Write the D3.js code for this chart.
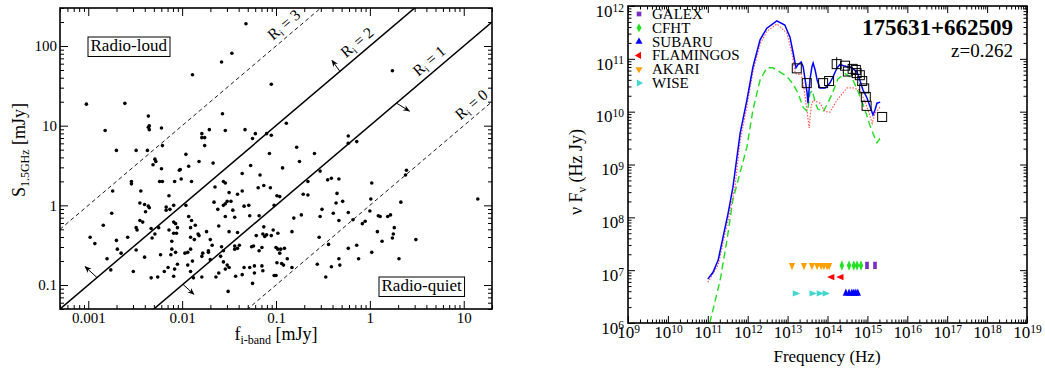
<!DOCTYPE html>
<html>
<head>
<meta charset="utf-8">
<script src="https://d3js.org/d3.v7.min.js"></script>
<style>
  body { margin: 0; background: #fff; }
  svg { display: block; }
  text { font-family: "Liberation Serif", "Times New Roman", serif; }
</style>
</head>
<body>
<svg id="chart" width="1045" height="375"></svg>
<script>
// ---- left panel data: [log10 f_i-band (mJy), log10 S_1.5GHz (mJy)] ----
const radioSources = [
  [-3.02,1.27],[-2.61,1.28],[-2.82,0.94],[-2.36,1.12],[-2.35,1.00],[-2.36,0.98],[-2.35,0.95],[-2.22,0.97],
  [-2.70,0.69],[-2.49,0.69],[-2.37,0.69],[-2.21,0.75],[-2.29,0.58],[-2.28,0.55],[-2.31,0.51],[-2.22,0.46],
  [-2.54,0.30],[-2.54,0.27],[-2.24,0.30],[-2.21,0.30],[-2.44,0.18],[-2.74,0.18],[-2.45,0.03],[-2.40,0.01],
  [-2.36,-0.01],[-2.35,-0.03],[-2.39,-0.08],[-2.14,0.12],[-2.17,-0.02],[-2.17,-0.06],[-2.13,-0.05],[-2.09,0.00],
  [-2.75,-0.10],[-2.45,-0.19],[-2.42,-0.21],[-2.84,-0.25],[-2.49,-0.28],[-2.48,-0.31],[-2.33,-0.29],[-2.25,-0.28],
  [-2.29,-0.36],[-2.32,-0.41],[-2.98,-0.40],[-2.93,-0.48],[-2.70,-0.44],[-2.58,-0.40],[-2.69,-0.55],[-2.65,-0.60],
  [-2.49,-0.56],[-2.80,-0.67],[-2.40,-0.65],[-2.76,-0.81],[-2.52,-0.83],[-2.33,-0.91],[-2.26,-0.90],[-2.19,-0.83],
  [-2.15,-0.78],[-2.09,-0.89],[-2.08,-0.80],[-2.05,-0.74],[-2.23,-0.62],[-2.12,-0.62],[-2.11,-0.55],[-2.07,-0.59],
  [-2.11,-0.45],[-2.14,-0.31],[-2.09,-0.35],[-2.06,-0.35],[-2.09,-0.21],[-2.07,-0.23],[-2.05,-0.28],[-1.96,0.64],
  [-1.93,0.49],[-1.90,0.30],[-2.03,0.44],[-2.02,0.45],[-2.01,0.33],[-2.08,0.30],[-1.96,0.00],[-1.93,-0.14],
  [-1.90,-0.19],[-1.91,-0.28],[-1.86,-0.25],[-1.91,-0.40],[-1.87,-0.43],[-1.83,-0.36],[-1.82,-0.38],[-1.97,-0.60],
  [-1.94,-0.59],[-1.91,-0.55],[-1.89,-0.70],[-1.94,-0.75],[-1.91,-0.83],[-1.88,-0.91],[-1.79,-0.90],[-1.78,-0.60],
  [-1.79,-0.64],[-1.82,0.55],[-1.79,0.90],[-1.79,0.85],[-1.89,1.64],[-1.58,1.80],[-1.47,1.91],[-1.32,2.28],
  [-1.05,1.52],[0.24,1.69],[-1.57,1.15],[-1.71,0.95],[-1.76,0.85],[-1.76,0.75],[-1.54,0.94],[-1.33,0.95],
  [-1.22,0.90],[-1.25,0.84],[-1.10,0.90],[-1.05,0.88],[-0.89,1.03],[-0.78,0.73],[-1.07,0.65],[-0.59,0.65],
  [-0.23,0.87],[-0.23,0.78],[-1.67,0.53],[-1.27,0.50],[-0.93,0.47],[-0.75,0.55],[-1.36,0.40],[-1.17,0.38],
  [-0.53,0.43],[-1.56,0.30],[-1.54,0.28],[-1.65,0.23],[-1.19,0.22],[-1.13,0.25],[-1.06,0.22],[-0.45,0.32],
  [-0.41,0.34],[-0.33,0.33],[-0.66,0.30],[-1.50,0.16],[-1.41,0.14],[-1.36,0.18],[-0.99,0.12],[-0.96,0.11],
  [-0.71,0.14],[-0.66,0.13],[-0.35,0.15],[-1.66,0.04],[-1.52,0.05],[-1.48,0.05],[-1.56,0.00],[-1.54,0.02],
  [-1.62,-0.05],[-1.46,-0.06],[-1.34,-0.01],[-1.29,0.00],[-1.02,0.00],[-0.29,0.05],[-0.36,0.03],[-0.51,-0.05],
  [-0.39,-0.10],[-1.54,-0.14],[-1.44,-0.15],[-1.28,-0.13],[-1.18,-0.13],[-0.81,-0.16],[-0.73,-0.12],[-0.53,-0.14],
  [-0.33,-0.19],[-0.23,-0.09],[-0.18,-0.18],[-1.61,-0.26],[-1.74,-0.33],[-1.50,-0.33],[-1.41,-0.34],[-1.13,-0.27],
  [-1.03,-0.31],[-0.98,-0.35],[-0.83,-0.33],[-1.21,-0.38],[-1.14,-0.36],[-1.12,-0.39],[-1.10,-0.37],[-1.05,-0.38],
  [-1.70,-0.43],[-1.68,-0.50],[-1.72,-0.57],[-1.72,-0.59],[-1.58,-0.52],[-1.56,-0.57],[-1.59,-0.64],[-1.70,-0.68],
  [-1.44,-0.51],[-1.44,-0.55],[-1.41,-0.54],[-1.39,-0.50],[-1.26,-0.52],[-1.24,-0.51],[-1.15,-0.53],[-1.18,-0.57],
  [-1.00,-0.53],[-0.98,-0.55],[-0.95,-0.55],[-0.91,-0.54],[-0.96,-0.60],[-0.88,-0.67],[-0.99,-0.72],[-0.94,-0.73],
  [-0.92,-0.75],[-0.83,-0.78],[-0.54,-0.40],[-0.44,-0.49],[-0.23,-0.54],[-0.33,-0.67],[-0.32,-0.75],[-0.56,-0.74],
  [-0.41,-0.77],[-0.47,-0.90],[-1.56,-0.71],[-1.52,-0.75],[-1.50,-0.78],[-1.54,-0.80],[-1.61,-0.85],[-1.64,-0.90],
  [-1.34,-0.78],[-1.28,-0.78],[-1.23,-0.76],[-1.15,-0.76],[-1.14,-0.82],[-1.23,-0.85],[-1.36,-0.87],[-1.43,-0.89],
  [-1.02,-0.88],[-1.00,-0.88],[-1.25,-0.98],[-1.51,-1.08],[0.02,0.28],[0.39,0.44],[0.38,0.38],[0.01,0.08],
  [0.33,0.04],[1.15,0.08],[-0.08,-0.23],[-0.05,-0.20],[0.00,-0.07],[0.09,-0.13],[0.11,-0.14],[0.19,-0.14],
  [0.22,-0.12],[0.08,-0.33],[0.13,-0.45],[0.26,-0.28],[0.25,-0.36],[0.24,-0.41],[0.49,-0.43],[-0.14,-0.50],
  [-0.12,-0.67],[0.02,-0.59],[0.31,-0.67],[-0.14,0.80]
];
// radio-loudness lines R_i = log(S/f)
const rValues = [0, 1, 2, 3];
const rDashed = [true, false, false, true];
const rLabelF = [14.4, 5.1, 0.87, 0.145];      // f (mJy) along each line where its label sits
const rArrows = [                               // arrows off the R_i=1 and R_i=2 lines
  {r: 2, f: 0.48,    dx: -8,  dy: -11},
  {r: 2, f: 0.00124, dx: -12, dy: -11},
  {r: 1, f: 1.92,    dx: 13,  dy: 8},
  {r: 1, f: 0.0102,  dx: 11,  dy: 10}
];

// ---- right panel data: [log10 nu (Hz), log10 nuF_nu (Hz Jy)] ----
const sedTotal = [[11.00,6.83],[11.13,6.96],[11.26,7.19],[11.38,7.62],[11.51,8.08],[11.63,8.57],[11.81,9.59],
  [11.98,10.22],[12.13,10.84],[12.31,11.36],[12.48,11.58],[12.73,11.72],[12.93,11.64],[13.06,11.41],[13.14,11.11],
  [13.21,10.83],[13.26,10.89],[13.34,10.94],[13.39,10.85],[13.44,10.60],[13.49,10.35],[13.51,10.16],[13.56,10.60],
  [13.61,10.85],[13.64,10.92],[13.69,10.79],[13.74,10.60],[13.81,10.45],[13.94,10.45],[14.06,10.54],[14.14,10.66],
  [14.24,10.83],[14.31,10.89],[14.49,10.85],[14.61,10.83],[14.74,10.75],[14.81,10.60],[14.89,10.41],[14.99,10.26],
  [15.07,10.09],[15.14,9.94],[15.19,10.03],[15.24,10.16],[15.32,10.18]];
const sedRed = [[11.00,6.77],[11.26,7.10],[11.38,7.51],[11.51,7.95],[11.68,8.57],[11.81,9.45],[11.98,10.10],
  [12.13,10.75],[12.31,11.28],[12.48,11.52],[12.73,11.66],[12.98,11.49],[13.11,11.11],[13.19,10.73],[13.26,10.70],
  [13.34,10.72],[13.42,10.40],[13.49,10.00],[13.54,9.69],[13.59,10.10],[13.64,10.22],[13.81,10.16],[13.94,10.00],
  [14.06,9.99],[14.24,10.22],[14.49,10.45],[14.64,10.45],[14.81,10.41],[14.99,10.09],[15.12,9.78],[15.19,9.97],
  [15.32,10.09]];
const sedGreen = [[11.05,6.00],[11.31,6.81],[11.48,7.57],[11.63,8.33],[11.73,8.62],[11.98,9.33],[12.13,10.03],
  [12.31,10.60],[12.48,10.83],[12.63,10.83],[12.81,10.75],[12.98,10.67],[13.14,10.52],[13.26,10.35],[13.39,10.08],
  [13.50,10.00],[13.56,10.35],[13.62,10.40],[13.70,10.15],[13.76,10.05],[13.89,10.00],[14.00,10.15],[14.10,10.31],
  [14.26,10.62],[14.44,10.72],[14.61,10.64],[14.73,10.45],[14.86,10.20],[14.98,9.94],[15.06,9.75],[15.14,9.59],
  [15.24,9.41],[15.30,9.48],[15.32,9.43]];
const photometry = [[13.23,10.82],[13.48,10.54],[13.89,10.54],[14.04,10.58],[14.23,10.90],[14.44,10.87],
  [14.51,10.76],[14.63,10.81],[14.71,10.79],[14.73,10.73],[14.81,10.69],[14.87,10.58],[14.92,10.44],[14.96,10.28],
  [14.98,10.11],[15.37,9.90]];
const photErrors = [[14.23, 10.80, 11.03]];
// filter positions (log10 nu) and the flux level they are plotted at
const galexNu = [14.99, 15.19];
const cfhtNu = [14.36, 14.54, 14.66, 14.74, 14.84];
const subaruNu = [14.46, 14.54, 14.61, 14.66, 14.71, 14.76];
const flamingosNu = [14.11, 14.34];
const akariNu = [13.11, 13.41, 13.61, 13.74, 13.84, 13.91, 13.99, 14.04];
const wiseNu = [13.19, 13.61, 13.79, 13.94];
const filterLevel = {GALEX: 7.09, CFHT: 7.09, SUBARU: 6.56, FLAMINGOS: 6.87, AKARI: 7.09, WISE: 6.56};
const legendNames = ["GALEX", "CFHT", "SUBARU", "FLAMINGOS", "AKARI", "WISE"];
const sourceName = "175631+662509";
const redshift = "z=0.262";

// ------------------------------------------------------------------
const svg = d3.select("#chart");
const SERIF = '"Liberation Serif", "Times New Roman", serif';
const SANS = '"Liberation Sans", Arial, sans-serif';
const p10 = v => Math.pow(10, v);

function decades(domain) {
  const major = [], minor = [];
  const lo = Math.floor(Math.log10(domain[0])), hi = Math.ceil(Math.log10(domain[1]));
  for (let e = lo; e <= hi; e++) {
    for (let k = 1; k < 10; k++) {
      const v = k * Math.pow(10, e);
      if (v < domain[0] * 0.9999 || v > domain[1] * 1.0001) continue;
      (k === 1 ? major : minor).push(v);
    }
  }
  return {major, minor};
}

// ticks on all four sides, pointing inwards
function frameAxes(g, x, y, box, o) {
  const xt = decades(x.domain()), yt = decades(y.domain());
  const put = (axis, tx, ty) => g.append("g")
    .attr("transform", `translate(${tx},${ty})`)
    .call(axis)
    .call(a => a.select(".domain").remove())
    .attr("font-family", o.font).attr("font-size", o.size);
  const xb = put(d3.axisBottom(x).tickValues(xt.major).tickSize(-o.major).tickPadding(o.xpad).tickFormat(o.fmt), 0, box.bottom);
  put(d3.axisBottom(x).tickValues(xt.minor).tickSize(-o.minor).tickFormat(""), 0, box.bottom);
  put(d3.axisTop(x).tickValues(xt.major).tickSize(-o.major).tickFormat(""), 0, box.top);
  put(d3.axisTop(x).tickValues(xt.minor).tickSize(-o.minor).tickFormat(""), 0, box.top);
  const yl = put(d3.axisLeft(y).tickValues(yt.major).tickSize(-o.major).tickPadding(o.ypad).tickFormat(o.fmt), box.left, 0);
  put(d3.axisLeft(y).tickValues(yt.minor).tickSize(-o.minor).tickFormat(""), box.left, 0);
  put(d3.axisRight(y).tickValues(yt.major).tickSize(-o.major).tickFormat(""), box.right, 0);
  put(d3.axisRight(y).tickValues(yt.minor).tickSize(-o.minor).tickFormat(""), box.right, 0);
  g.selectAll(".tick line").attr("stroke-width", 1);
  g.append("rect").attr("x", box.left).attr("y", box.top)
    .attr("width", box.right - box.left).attr("height", box.bottom - box.top)
    .attr("fill", "none").attr("stroke", "#000").attr("stroke-width", 1.6);
  return {xb, yl};
}

// ================= left panel =================
const L = {left: 60, right: 492, top: 8, bottom: 309};
const xL = d3.scaleLog().domain([0.0005, 20]).range([L.left, L.right]);
const yL = d3.scaleLog().domain([0.05, 300]).range([L.bottom, L.top]);
const gL = svg.append("g");

svg.append("defs").html(
  `<clipPath id="clipL"><rect x="${L.left}" y="${L.top}" width="${L.right - L.left}" height="${L.bottom - L.top}"/></clipPath>
   <clipPath id="clipR"><rect x="628" y="6" width="399" height="317"/></clipPath>
   <marker id="arrowHead" viewBox="0 0 10 10" refX="9" refY="5" markerWidth="7" markerHeight="7" orient="auto">
     <path d="M0,1 L10,5 L0,9 L3,5 Z" fill="#000"/></marker>`);

const plotL = gL.append("g").attr("clip-path", "url(#clipL)");
plotL.selectAll("line.rline").data(rValues).join("line")
  .attr("class", "rline")
  .attr("x1", xL(xL.domain()[0])).attr("y1", r => yL(xL.domain()[0] * p10(r)))
  .attr("x2", xL(xL.domain()[1])).attr("y2", r => yL(xL.domain()[1] * p10(r)))
  .attr("stroke", "#000")
  .attr("stroke-width", (r, i) => rDashed[i] ? 0.9 : 1.5)
  .attr("stroke-dasharray", (r, i) => rDashed[i] ? "4,3" : null);

plotL.selectAll("circle").data(radioSources).join("circle")
  .attr("cx", d => xL(p10(d[0]))).attr("cy", d => yL(p10(d[1])))
  .attr("r", 1.8).attr("fill", "#000");

// angle of the R_i lines on screen
const lineAngle = Math.atan2(yL(1) - yL(10), xL(10) - xL(1)) * 180 / Math.PI;

const rLab = gL.selectAll("text.rlab").data(rValues).join("text")
  .attr("class", "rlab")
  .attr("transform", (r, i) => `translate(${xL(rLabelF[i])},${yL(rLabelF[i] * p10(r))}) rotate(${-lineAngle}) translate(0,-6)`)
  .attr("text-anchor", "middle").attr("font-size", 15.5).attr("font-family", SERIF);
rLab.append("tspan").text("R");
rLab.append("tspan").attr("font-size", 10).attr("dy", 3).text("i");
rLab.append("tspan").attr("dy", -3).text(r => " = " + r);

gL.selectAll("line.rarrow").data(rArrows).join("line")
  .attr("class", "rarrow")
  .attr("x1", d => xL(d.f)).attr("y1", d => yL(d.f * p10(d.r)))
  .attr("x2", d => xL(d.f) + d.dx).attr("y2", d => yL(d.f * p10(d.r)) + d.dy)
  .attr("stroke", "#000").attr("stroke-width", 1)
  .attr("marker-end", "url(#arrowHead)");

frameAxes(gL, xL, yL, L, {font: SERIF, size: 15, major: 8, minor: 4, xpad: 3, ypad: 3, fmt: d => String(d)});

function boxedLabel(g, x, y, txt) {
  const t = g.append("text").attr("x", x).attr("y", y).attr("font-size", 17).attr("font-family", SERIF).text(txt);
  const b = t.node().getBBox();
  g.insert("rect", "text").attr("x", b.x - 2.5).attr("y", b.y + 1).attr("width", b.width + 5).attr("height", b.height + 0.5)
    .attr("fill", "#fff").attr("stroke", "#000").attr("stroke-width", 1);
}
boxedLabel(gL, 90.5, 51, "Radio-loud");
boxedLabel(gL, 381.5, 291, "Radio-quiet");

const yTitleL = gL.append("text").attr("transform", "translate(25,150) rotate(-90)")
  .attr("text-anchor", "middle").attr("font-size", 18).attr("font-family", SERIF);
yTitleL.append("tspan").text("S");
yTitleL.append("tspan").attr("font-size", 12).attr("dy", 4).text("1.5GHz");
yTitleL.append("tspan").attr("dy", -4).text(" [mJy]");

const xTitleL = gL.append("text").attr("x", 276).attr("y", 340)
  .attr("text-anchor", "middle").attr("font-size", 18).attr("font-family", SERIF);
xTitleL.append("tspan").text("f");
xTitleL.append("tspan").attr("font-size", 12).attr("dy", 4).text("i-band");
xTitleL.append("tspan").attr("dy", -4).text(" [mJy]");

// ================= right panel =================
const R = {left: 628, right: 1027, top: 6, bottom: 323};
const xR = d3.scaleLog().domain([1e9, 1e19]).range([R.left, R.right]);
const yR = d3.scaleLog().domain([1e6, 1e12]).range([R.bottom, R.top]);
const gR = svg.append("g");
const plotR = gR.append("g").attr("clip-path", "url(#clipR)");

const sedLine = d3.line().x(d => xR(p10(d[0]))).y(d => yR(p10(d[1])));
plotR.append("path").datum(sedGreen).attr("d", sedLine).attr("fill", "none")
  .attr("stroke", "#22dd22").attr("stroke-width", 1.4).attr("stroke-dasharray", "7,4");
plotR.append("path").datum(sedRed).attr("d", sedLine).attr("fill", "none")
  .attr("stroke", "#ff5a5a").attr("stroke-width", 1.2).attr("stroke-dasharray", "1.5,1.5");
plotR.append("path").datum(sedTotal).attr("d", sedLine).attr("fill", "none")
  .attr("stroke", "#0000ff").attr("stroke-width", 1.5);

plotR.selectAll("line.err").data(photErrors).join("line").attr("class", "err")
  .attr("x1", d => xR(p10(d[0]))).attr("x2", d => xR(p10(d[0])))
  .attr("y1", d => yR(p10(d[1]))).attr("y2", d => yR(p10(d[2])))
  .attr("stroke", "#000").attr("stroke-width", 1);
plotR.selectAll("rect.phot").data(photometry).join("rect").attr("class", "phot")
  .attr("x", d => xR(p10(d[0])) - 4.5).attr("y", d => yR(p10(d[1])) - 4.5)
  .attr("width", 9).attr("height", 9)
  .attr("fill", "none").attr("stroke", "#000").attr("stroke-width", 1);

const instruments = {
  GALEX:     {nu: galexNu,     color: "#7a30c0", type: d3.symbolSquare,   rot: 0},
  CFHT:      {nu: cfhtNu,      color: "#22e022", type: d3.symbolDiamond,  rot: 0},
  SUBARU:    {nu: subaruNu,    color: "#0000ff", type: d3.symbolTriangle, rot: 0},
  FLAMINGOS: {nu: flamingosNu, color: "#ff0000", type: d3.symbolTriangle, rot: -90},
  AKARI:     {nu: akariNu,     color: "#ffa000", type: d3.symbolTriangle, rot: 180},
  WISE:      {nu: wiseNu,      color: "#40d8d0", type: d3.symbolTriangle, rot: 90}
};

legendNames.forEach((name, i) => {
  const ins = instruments[name];
  const sym = d3.symbol().type(ins.type).size(name === "GALEX" ? 24 : 26);
  plotR.selectAll(null).data(ins.nu).join("path")
    .attr("d", sym)
    .attr("transform", d => `translate(${xR(p10(d))},${yR(p10(filterLevel[name]))}) rotate(${ins.rot}) scale(${name === "GALEX" ? "0.75,1.5" : "0.8,1.1"})`)
    .attr("fill", ins.color);
  const ly = 18 + i * 13.8;
  gR.append("path").attr("d", d3.symbol().type(ins.type).size(22))
    .attr("transform", `translate(639,${ly - 4}) rotate(${ins.rot})`).attr("fill", ins.color);
  gR.append("text").attr("x", 652).attr("y", ly + 1).attr("font-size", 15).attr("font-family", SERIF).text(name);
});

const axR = frameAxes(gR, xR, yR, R, {font: SANS, size: 17, major: 7, minor: 3.5, xpad: 3, ypad: 4, fmt: () => "10"});
function supers(sel) {
  sel.selectAll(".tick text").each(function (d) {
    const t = d3.select(this);
    t.text(null);
    t.append("tspan").text("10");
    t.append("tspan").attr("font-size", 11.5).attr("dy", "-0.45em").text(Math.round(Math.log10(d)));
  });
}
supers(axR.xb);
supers(axR.yl);
axR.yl.selectAll(".tick text").attr("dy", "0.6em");
axR.xb.selectAll(".tick text").attr("dy", "0.72em");

gR.append("text").attr("x", 1013).attr("y", 35).attr("text-anchor", "end")
  .attr("font-size", 23).attr("font-weight", "bold").attr("font-family", SERIF).text(sourceName);
gR.append("text").attr("x", 1013).attr("y", 57).attr("text-anchor", "end")
  .attr("font-size", 19).attr("font-family", SERIF).text(redshift);

gR.append("text").attr("x", 827).attr("y", 362).attr("text-anchor", "middle")
  .attr("font-size", 17).attr("font-family", SERIF).text("Frequency (Hz)");
const yTitleR = gR.append("text").attr("transform", "translate(582,172) rotate(-90)")
  .attr("text-anchor", "middle").attr("font-size", 18).attr("font-family", SERIF);
yTitleR.append("tspan").text("ν F");
yTitleR.append("tspan").attr("font-size", 12).attr("dy", 4).text("ν");
yTitleR.append("tspan").attr("dy", -4).text(" (Hz Jy)");
</script>
</body>
</html>
